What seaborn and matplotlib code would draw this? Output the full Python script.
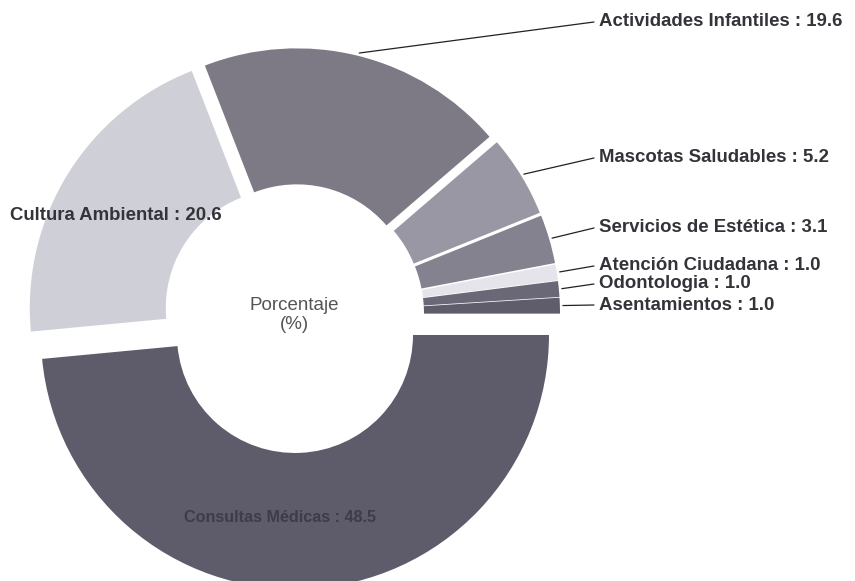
import numpy as np
import matplotlib
matplotlib.use("Agg")
import matplotlib.pyplot as plt
import seaborn as sns

# Data (percentages), counter-clockwise from 0 degrees
categories = ["Asentamientos", "Odontologia", "Atención Ciudadana", "Servicios de Estética",
              "Mascotas Saludables", "Actividades Infantiles", "Cultura Ambiental", "Consultas Médicas"]
values = [1.0, 1.0, 1.0, 3.1, 5.2, 19.6, 20.6, 48.5]
colors = ["#5f5c6b", "#6a6776", "#e4e4ea", "#858290", "#9a97a5", "#7d7a86", "#cfcfd8", "#5e5b6a"]

sns.set_theme(style="white")
plt.rcParams['font.family'] = ['Liberation Sans', 'DejaVu Sans']

W, H = 855, 581
fig = plt.figure(figsize=(W / 100, H / 100), dpi=100)
ax = fig.add_axes([0, 0, 1, 1])

cx, cy = 294, H - 314
R = 254
ring = 136
explode = [12, 12, 12, 12, 12, 12, 12, 21]

wedges, _ = ax.pie(values, colors=colors, startangle=0, counterclock=True,
                   center=(cx, cy), radius=R, explode=explode,
                   wedgeprops=dict(width=ring, linewidth=0), frame=True)
ax.set_xlim(0, W)
ax.set_ylim(0, H)
ax.set_aspect('equal')
ax.axis('off')

# angles
cum = np.cumsum([0] + values)
mids = [(cum[i] + cum[i + 1]) / 2 / 100 * 360 for i in range(len(values))]

txt_col = "#343339"
label_y = {0: 305, 1: 284, 2: 266, 3: 228, 4: 158, 5: 22}
for i in range(6):
    th = np.deg2rad(mids[i])
    r = R + explode[i] + 3
    x0 = cx + r * np.cos(th)
    y0 = cy + r * np.sin(th)
    ty = H - label_y[i]
    ax.plot([x0, 594], [y0, ty], color="#222222", lw=0.9)
    ax.text(599, ty, f"{categories[i]} : {values[i]:.1f}", ha="left", va="center",
            fontsize=13.4, fontweight="bold", color=txt_col)

ax.text(10, H - 215, f"{categories[6]} : {values[6]:.1f}", ha="left", va="center",
        fontsize=13.4, fontweight="bold", color=txt_col)
ax.text(280, H - 518, f"{categories[7]} : {values[7]:.1f}", ha="center", va="center",
        fontsize=11.6, fontweight="bold", color="#3e3c48")

ax.text(cx, H - 315, "Porcentaje\n(%)", ha="center", va="center", fontsize=13.5,
        color="#555459", linespacing=1.2)

fig.savefig("out.png", dpi=100)
